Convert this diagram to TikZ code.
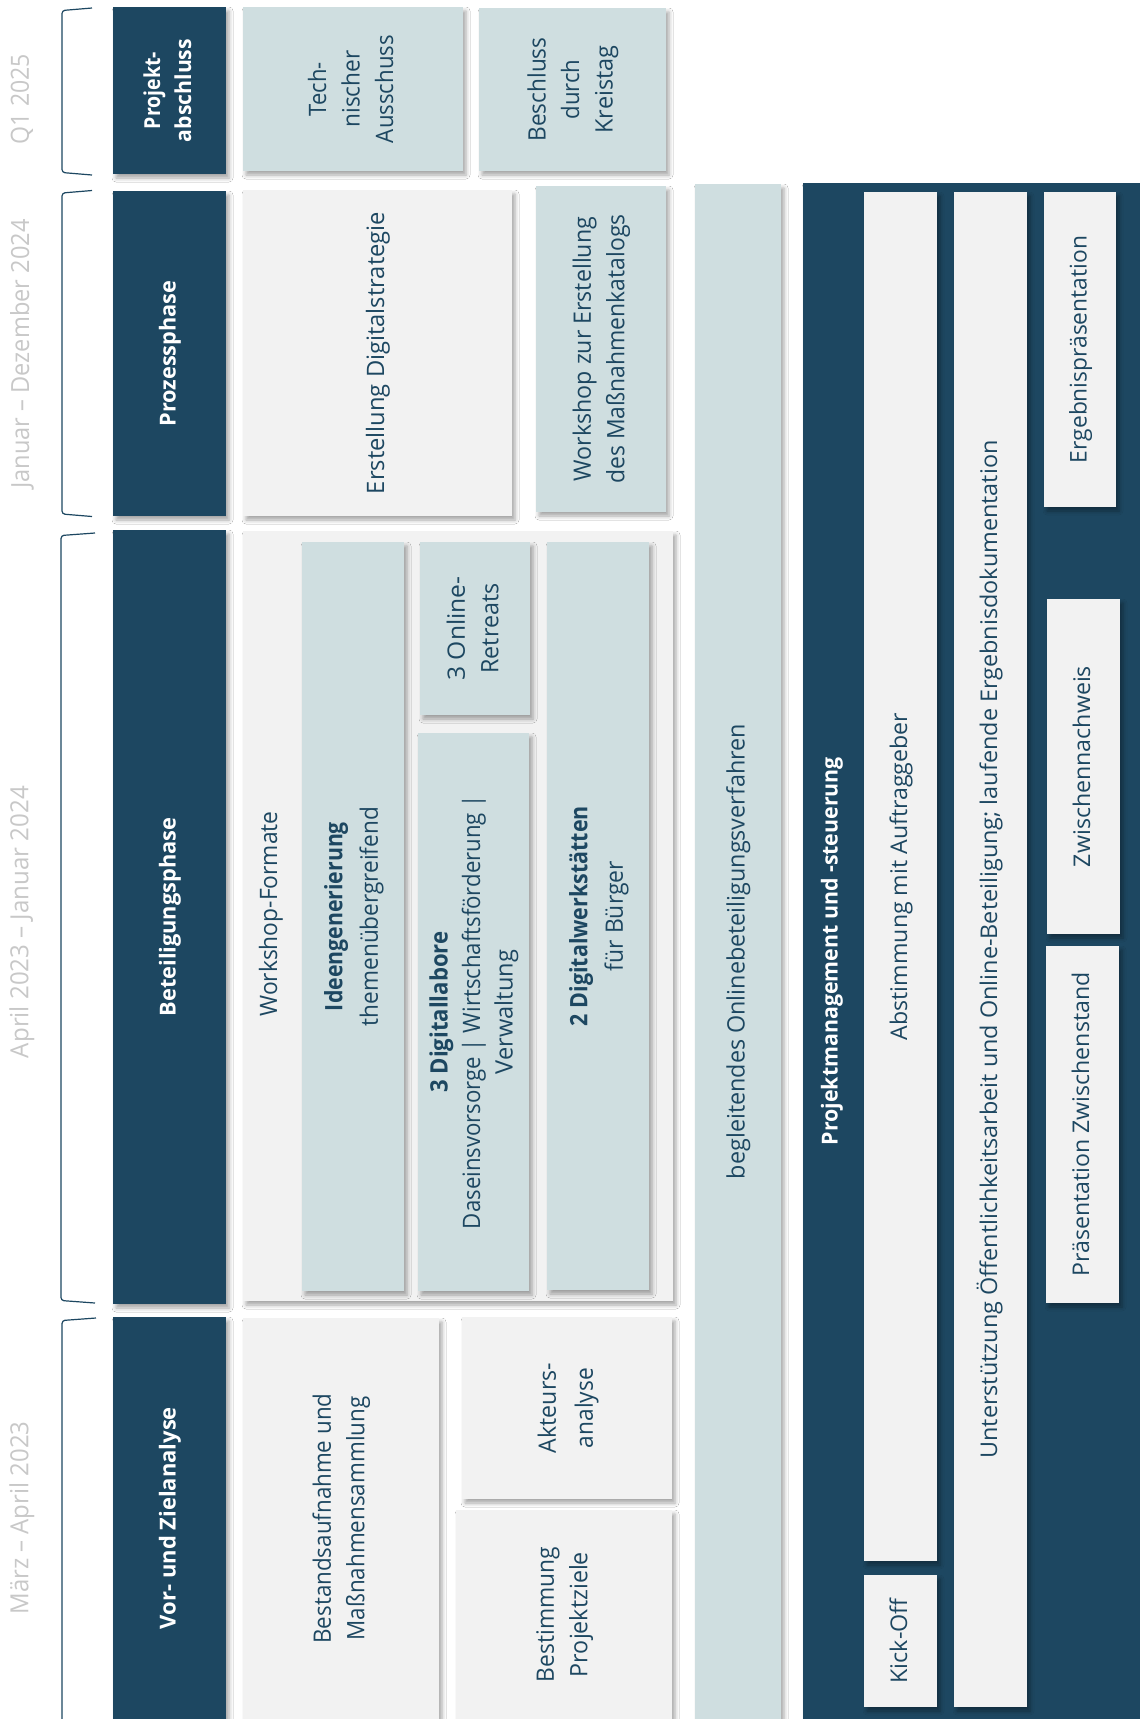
\documentclass[tikz,border=0pt]{standalone}
\usepackage{fontspec}
\setmainfont{Open Sans}
\usepackage{graphicx}
\usetikzlibrary{shadows.blur}
\definecolor{navy}{RGB}{29,71,97}
\definecolor{lblue}{RGB}{207,222,224}
\definecolor{lgray}{RGB}{242,242,242}
\definecolor{dgray}{RGB}{200,200,200}
\newcommand{\Lx}[2]{\resizebox{#1pt}{\height}{#2}}
\newcommand{\vtxt}[1]{\rotatebox{90}{\begin{tabular}{@{}c@{}}#1\end{tabular}}}
\newcommand{\boxnode}[7]{%
  \pgfmathsetmacro{\bw}{#5-#3}\pgfmathsetmacro{\bh}{#6-#4}%
  \pgfmathsetmacro{\bcx}{(#3+#5)/2}\pgfmathsetmacro{\bcy}{(#4+#6)/2}%
  \node[#1, minimum width=\bw pt, minimum height=\bh pt] (#2) at (\bcx,\bcy) {#7};}
\tikzset{
  softshadow/.style={blur shadow={shadow xshift=3pt, shadow yshift=-4pt, shadow blur radius=4pt, shadow opacity=35}},
  boxbase/.style={rectangle, inner sep=0pt, outer sep=0pt, softshadow},
  navybox/.style={boxbase, fill=navy, text=white, font=\fontsize{22}{31}\selectfont\bfseries},
  bluebox/.style={boxbase, fill=lblue, text=navy, font=\fontsize{24}{33.5}\selectfont},
  graybox/.style={boxbase, fill=lgray, text=navy, font=\fontsize{24}{33.5}\selectfont},
  panelbox/.style={boxbase, fill=lgray, text=navy, font=\fontsize{23}{33}\selectfont},
  datelabel/.style={text=dgray, font=\fontsize{25}{30}\selectfont, inner sep=0pt, rotate=90},
  plainlabel/.style={inner sep=0pt, rotate=90},
  bracket/.style={draw=navy, line width=1.2pt, rounded corners=3pt},
}
\begin{document}
\begin{tikzpicture}[x=1pt,y=-1pt]
\useasboundingbox (0,0) rectangle (1140,1719);
\fill[white] (0,0) rectangle (1140,1719);
\clip (0,0) rectangle (1140,1719);

% date labels
\node[datelabel] (d1) at (22,99) {\Lx{90}{Q1 2025}};
\node[datelabel] (d2) at (22,354) {\Lx{269}{Januar – Dezember 2024}};
\node[datelabel] (d3) at (22,922) {\Lx{272}{April 2023 – Januar 2024}};
\node[datelabel] (d4) at (22,1518) {\Lx{193}{März – April 2023}};

% brackets
\draw[bracket] (92,8) -- (62,10.5) -- (62,172.5) -- (92,175);
\draw[bracket] (92,190.5) -- (62,193) -- (62,514) -- (92,516.5);
\draw[bracket] (95,533) -- (61,535.5) -- (61,1300.5) -- (95,1303);
\draw[bracket] (96,1318) -- (62,1320.5) -- (62,1738) -- (96,1740);

% phase boxes
\boxnode{navybox}{pa}{113}{7}{226}{174}{\vtxt{\Lx{77}{Projekt-}\\\Lx{103}{abschluss}}}
\boxnode{navybox}{pp}{113}{191}{226}{516}{\vtxt{\Lx{146}{Prozessphase}}}
\boxnode{navybox}{pb}{113}{530}{226}{1304}{\vtxt{\Lx{199}{Beteiligungsphase}}}
\boxnode{navybox}{pv}{113}{1317}{226}{1719}{\vtxt{\Lx{222}{Vor- und Zielanalyse}}}

% Projektabschluss
\boxnode{bluebox}{tech}{243}{7}{463}{171}{\vtxt{\Lx{54}{Tech-}\\\Lx{77}{nischer}\\\Lx{108}{Ausschuss}}}
\boxnode{bluebox}{kreis}{479}{8}{666}{171}{\vtxt{\Lx{104}{Beschluss}\\\Lx{60}{durch}\\\Lx{88}{Kreistag}}}

% Prozessphase
\boxnode{graybox}{strat}{243}{190}{512}{516}{\vtxt{\Lx{282}{Erstellung Digitalstrategie}}}
\boxnode{bluebox}{wsk}{536}{186}{666}{512}{\vtxt{\Lx{264}{Workshop zur Erstellung}\\\Lx{269}{des Maßnahmenkatalogs}}}

% Beteiligungsphase
\boxnode{graybox}{wf}{243}{531}{673}{1301}{}
\node[plainlabel, text=navy, font=\fontsize{24}{33.5}\selectfont] (wflabel) at (271,914) {\Lx{205}{Workshop-Formate}};
\boxnode{bluebox}{ideen}{302}{542}{404}{1291}{\fontsize{24}{35.5}\selectfont\vtxt{\Lx{189}{\bfseries Ideengenerierung}\\\Lx{219}{themenübergreifend}}}
\boxnode{bluebox}{retreat}{420}{542}{530}{715}{\vtxt{\Lx{104}{3 Online-}\\\Lx{90}{Retreats}}}
\boxnode{bluebox}{labor}{418}{733}{529}{1291}{\fontsize{24}{32.5}\selectfont\vtxt{\Lx{161}{\bfseries 3 Digitallabore}\\\Lx{434}{Daseinsvorsorge | Wirtschaftsförderung |}\\\Lx{124}{Verwaltung}}}
\boxnode{bluebox}{werk}{547}{542}{649}{1290}{\fontsize{24}{35.5}\selectfont\vtxt{\Lx{220}{\bfseries 2 Digitalwerkstätten}\\\Lx{110}{für Bürger}}}

% Vor- und Zielanalyse
\boxnode{graybox}{bestand}{243}{1318}{439}{1719}{\vtxt{\Lx{250}{Bestandsaufnahme und}\\\Lx{244}{Maßnahmensammlung}}}
\boxnode{graybox}{akteur}{462}{1317}{672}{1499}{\fontsize{24}{37}\selectfont\vtxt{\Lx{90}{Akteurs-}\\\Lx{80}{analyse}}}
\boxnode{graybox}{ziele}{456}{1510}{672}{1719}{\vtxt{\Lx{135}{Bestimmung}\\\Lx{125}{Projektziele}}}

% begleitendes Onlinebeteiligungsverfahren
\boxnode{bluebox}{online}{695}{184}{781}{1719}{\vtxt{\Lx{455}{begleitendes Onlinebeteiligungsverfahren}}}

% Projektmanagement panel
\boxnode{navybox}{pm}{803}{183}{1140}{1719}{}
\node[plainlabel, text=white, font=\fontsize{22}{31}\selectfont\bfseries] (pmlabel) at (832,951) {\Lx{388}{Projektmanagement und -steuerung}};
\boxnode{panelbox}{abst}{864}{192}{937}{1561}{\vtxt{\Lx{327}{Abstimmung mit Auftraggeber}}}
\boxnode{panelbox}{kick}{864}{1575}{937}{1707}{\vtxt{\Lx{85}{Kick-Off}}}
\boxnode{panelbox}{unter}{954}{192}{1027}{1707}{\vtxt{\Lx{1018}{Unterstützung Öffentlichkeitsarbeit und Online-Beteiligung; laufende Ergebnisdokumentation}}}
\boxnode{panelbox}{ergeb}{1044}{192}{1116}{507}{\vtxt{\Lx{227}{Ergebnispräsentation}}}
\boxnode{panelbox}{zwn}{1047}{599}{1120}{934}{\vtxt{\Lx{201}{Zwischennachweis}}}
\boxnode{panelbox}{zws}{1046}{946}{1119}{1303}{\vtxt{\Lx{304}{Präsentation Zwischenstand}}}
\end{tikzpicture}
\end{document}
